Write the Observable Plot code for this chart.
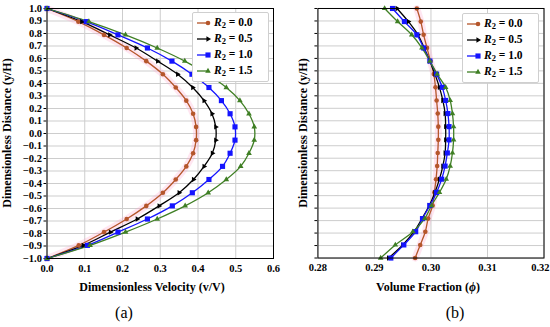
<!DOCTYPE html>
<html>
<head>
<meta charset="utf-8">
<script src="https://cdn.jsdelivr.net/npm/d3@7"></script>
<script src="https://cdn.jsdelivr.net/npm/@observablehq/plot@0.6"></script>
<style>
  body { margin: 0; background: #fff; }
  #wrap { position: relative; width: 550px; height: 327px; background: #fff; overflow: hidden; font-family: "Liberation Serif", serif; }
  .panel { position: absolute; top: 0; }
  .panel svg { overflow: visible; }
  .ttl { position: absolute; font-weight: bold; font-size: 12px; white-space: nowrap; transform: translate(-50%, -50%); color: #000; }
  .ttl.rot { transform: translate(-50%, -50%) rotate(-90deg); }
  .cap { position: absolute; font-size: 16px; transform: translate(-50%, -50%); white-space: nowrap; color: #000; }
  .legend { position: absolute; background: #fff; border: 1px solid #cfcfcf; border-radius: 2px; padding: 0; }
  .lrow { display: flex; align-items: center; height: 16px; font-weight: bold; font-size: 11.5px; white-space: nowrap; }
  .lrow svg { margin-right: 2px; }
</style>
</head>
<body>
<div id="wrap"></div>
<script>
// ---- data ----
const yPos = [1.000, 0.895, 0.789, 0.684, 0.579, 0.474, 0.368, 0.263, 0.158, 0.053,
              -0.053, -0.158, -0.263, -0.368, -0.474, -0.579, -0.684, -0.789, -0.895, -1.000];

const seriesR2 = ["0.0", "0.5", "1.0", "1.5"];
const seriesColors = ["#b5562b", "#000000", "#1414ff", "#3f7f24"];
const seriesSymbols = ["circle", "triangle", "square", "triangle"];

// (a) dimensionless velocity
const velR00 = [0, 0.083, 0.151, 0.211, 0.263, 0.307, 0.341, 0.369, 0.387, 0.395,
                0.395, 0.387, 0.369, 0.341, 0.307, 0.263, 0.211, 0.151, 0.084, 0];
const velR05 = [0, 0.092, 0.166, 0.236, 0.293, 0.346, 0.386, 0.416, 0.437, 0.447,
                0.447, 0.438, 0.416, 0.388, 0.350, 0.297, 0.239, 0.168, 0.096, 0];
const velR10 = [0, 0.104, 0.188, 0.266, 0.331, 0.384, 0.429, 0.462, 0.485, 0.498,
                0.498, 0.485, 0.465, 0.429, 0.385, 0.332, 0.266, 0.188, 0.107, 0];
const velR15 = [0, 0.111, 0.208, 0.292, 0.365, 0.425, 0.475, 0.511, 0.535, 0.549,
                0.549, 0.535, 0.513, 0.475, 0.427, 0.366, 0.292, 0.208, 0.114, 0];

// (b) volume fraction
const phiR00 = [0.2975, 0.2982, 0.2987, 0.2993, 0.2999, 0.3005, 0.3008, 0.3010, 0.3012, 0.3013,
                0.3013, 0.3012, 0.3011, 0.3009, 0.3006, 0.3003, 0.2995, 0.2990, 0.2981, 0.2972];
const phiR05 = [0.2940, 0.2960, 0.2977, 0.2988, 0.2998, 0.3007, 0.3015, 0.3021, 0.3025, 0.3026,
                0.3026, 0.3025, 0.3021, 0.3015, 0.3007, 0.2997, 0.2984, 0.2970, 0.2950, 0.2925];
const phiR10 = [0.2932, 0.2953, 0.2975, 0.2987, 0.2998, 0.3010, 0.3020, 0.3026, 0.3030, 0.3032,
                0.3032, 0.3029, 0.3025, 0.3019, 0.3010, 0.2998, 0.2985, 0.2973, 0.2952, 0.2929];
const phiR15 = [0.2918, 0.2941, 0.2966, 0.2984, 0.2998, 0.3011, 0.3026, 0.3034, 0.3038, 0.3040,
                0.3040, 0.3038, 0.3034, 0.3027, 0.3015, 0.3001, 0.2989, 0.2968, 0.2937, 0.2911];

const yTicks = [1.0, 0.9, 0.8, 0.7, 0.6, 0.5, 0.4, 0.3, 0.2, 0.1, 0.0,
                -0.1, -0.2, -0.3, -0.4, -0.5, -0.6, -0.7, -0.8, -0.9, -1.0];
const velTicks = [0.0, 0.1, 0.2, 0.3, 0.4, 0.5, 0.6];
const phiTicks = [0.28, 0.29, 0.30, 0.31, 0.32];

const yTitle = "Dimensionless Distance (y/H)";
const velTitle = "Dimensionless Velocity (v/V)";
const phiTitleA = "Volume Fraction (";
const phiSymbol = "ϕ";
const phiTitleB = ")";
const panelCaps = ["(a)", "(b)"];

// ---- build tables ----
function table(seriesValues) {
  const rows = [];
  seriesValues.forEach((vals, k) => {
    vals.forEach((v, i) => rows.push({s: seriesR2[k], k, x: v, y: yPos[i]}));
  });
  return rows;
}
const velData = table([velR00, velR05, velR10, velR15]);
const phiData = table([phiR00, phiR05, phiR10, phiR15]);

const markerR = [2.3, 2.0, 2.9, 2.1];

function makePanel(data, xDomain, xTicks, xFmt, showYLabels) {
  const marks = [
    Plot.ruleX(xTicks, {stroke: "#cdcdcd", strokeWidth: 1}),
    Plot.ruleY(yTicks, {stroke: "#cdcdcd", strokeWidth: 1}),
    Plot.line(data.filter(d => d.k === 0), {x: "x", y: "y", stroke: "#ff9cc8", strokeWidth: 7, strokeOpacity: 0.25, curve: "catmull-rom"}),
  ];
  for (let k = 0; k < 4; k++) {
    const sub = data.filter(d => d.k === k);
    marks.push(Plot.line(sub, {x: "x", y: "y", stroke: seriesColors[k], strokeWidth: 1.3, curve: "catmull-rom"}));
  }
  for (let k = 0; k < 4; k++) {
    const sub = data.filter(d => d.k === k);
    marks.push(Plot.dot(sub, {x: "x", y: "y", fill: seriesColors[k], stroke: "none",
      symbol: () => seriesSymbols[k], r: markerR[k], rotate: k === 1 ? 90 : 0}));
  }
  marks.push(Plot.frame({stroke: "#000", strokeWidth: 1}));
  return Plot.plot({
    width: 280, height: 300,
    marginLeft: 46.5, marginRight: 7, marginTop: 8, marginBottom: 42,
    style: {fontFamily: "Liberation Serif", fontSize: "10.5px", fontWeight: "bold", background: "transparent", color: "#000"},
    x: {domain: xDomain, ticks: xTicks, tickFormat: d3.format(xFmt), tickSize: 0, tickPadding: 6, label: null},
    y: {domain: [-1, 1], ticks: yTicks, tickFormat: showYLabels ? d3.format(".1f") : () => "", tickSize: 3, tickPadding: 2, label: null},
    symbol: {type: "identity"},
    marks
  });
}

const wrap = d3.select("#wrap");
const left = makePanel(velData, [0, 0.6], velTicks, ".1f", true);
const right = makePanel(phiData, [0.28, 0.32], phiTicks, ".2f", false);
wrap.append("div").attr("class", "panel").style("left", "0px").node().appendChild(left);
wrap.append("div").attr("class", "panel").style("left", "270.5px").node().appendChild(right);

// keep the last tick label of panel (b) inside the page
{
  const wr = document.getElementById("wrap").getBoundingClientRect();
  d3.select(right).selectAll("text").each(function() {
    if (this.textContent === "0.32") {
      const b = this.getBoundingClientRect();
      const over = b.right - (wr.left + 549);
      if (over > 0) d3.select(this).attr("dx", -over);
    }
  });
}

// axis titles
wrap.append("div").attr("class", "ttl rot").style("left", "7px").style("top", "133px").text(yTitle);
wrap.append("div").attr("class", "ttl rot").style("left", "303px").style("top", "133px").text(yTitle);
wrap.append("div").attr("class", "ttl").style("left", "152px").style("top", "287px").text(velTitle);
const pt = wrap.append("div").attr("class", "ttl").style("left", "428px").style("top", "287px");
pt.append("span").text(phiTitleA);
pt.append("i").text(phiSymbol);
pt.append("span").text(phiTitleB);
wrap.append("div").attr("class", "cap").style("left", "124px").style("top", "313px").text(panelCaps[0]);
wrap.append("div").attr("class", "cap").style("left", "455px").style("top", "313px").text(panelCaps[1]);

// legends
function legend(lx, ly) {
  const lg = wrap.append("div").attr("class", "legend")
    .style("left", lx + "px").style("top", ly + "px").style("width", "72px").style("padding", "2px 0 2px 3px");
  seriesR2.forEach((r, k) => {
    const row = lg.append("div").attr("class", "lrow");
    const s = row.append("svg").attr("width", 16).attr("height", 10);
    s.append("line").attr("x1", 1).attr("x2", 13).attr("y1", 5).attr("y2", 5).attr("stroke", seriesColors[k]).attr("stroke-width", 1.3);
    const sym = d3.symbol(k === 0 ? d3.symbolCircle : k === 2 ? d3.symbolSquare : d3.symbolTriangle, Math.PI * markerR[k] * markerR[k])();
    s.append("path").attr("d", sym).attr("fill", seriesColors[k])
      .attr("transform", `translate(12,5)` + (k === 1 ? " rotate(90)" : ""));
    const t = row.append("span");
    t.append("i").text("R");
    t.append("sub").style("font-size", "8.5px").style("vertical-align", "-2px").text("2");
    t.append("span").html("&nbsp;=&nbsp;" + r);
  });
}
legend(192, 12);
legend(462, 13);
</script>
</body>
</html>
